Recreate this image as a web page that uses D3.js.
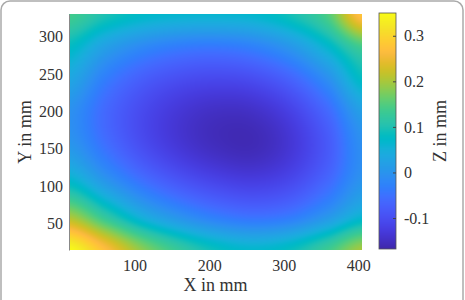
<!DOCTYPE html>
<html><head><meta charset="utf-8">
<script src="https://cdn.jsdelivr.net/npm/d3@7"></script>
<style>html,body{margin:0;padding:0;background:#fff;}svg{display:block;}</style>
</head><body>
<script>
// ---- data ----
const xGrid = [12, 60, 110, 160, 210, 260, 310, 360, 405];        // X in mm
const yGrid = [15, 60, 105, 150, 195, 240, 285, 330];             // Y in mm
const zRows = [                                                    // Z in mm, one row per yGrid value
  [0.35, 0.27, 0.185, 0.125, 0.085, 0.068, 0.085, 0.135, 0.20],
  [0.20, 0.12, 0.045, -0.003, -0.036, -0.051, -0.039, 0.005, 0.06],
  [0.075, 0.01, -0.047, -0.087, -0.112, -0.122, -0.106, -0.06, 0.002],
  [0.01, -0.047, -0.098, -0.132, -0.152, -0.157, -0.134, -0.083, -0.008],
  [-0.005, -0.062, -0.107, -0.136, -0.151, -0.149, -0.122, -0.065, 0.015],
  [0.03, -0.036, -0.08, -0.104, -0.113, -0.106, -0.074, -0.011, 0.075],
  [0.078, 0.02, -0.018, -0.038, -0.043, -0.031, 0.004, 0.066, 0.135],
  [0.14, 0.10, 0.075, 0.065, 0.063, 0.068, 0.095, 0.15, 0.28]
];
const xTicks = [100, 200, 300, 400];
const yTicks = [50, 100, 150, 200, 250, 300];
const zTicks = [-0.1, 0, 0.1, 0.2, 0.3];
const zTickLabels = ["-0.1", "0", "0.1", "0.2", "0.3"];
const xDomain = [12, 405];
const yDomain = [15, 330];
const zDomain = [-0.168, 0.35];
const xLabel = "X in mm", yLabel = "Y in mm", zLabel = "Z in mm";

// parula colormap (64 entries)
const parula = [[0.2422,0.1504,0.6603],[0.2504,0.1650,0.7076],[0.2578,0.1818,0.7511],[0.2647,0.1978,0.7952],[0.2706,0.2147,0.8364],[0.2751,0.2342,0.8710],[0.2783,0.2559,0.8991],[0.2803,0.2782,0.9221],[0.2813,0.3006,0.9414],[0.2810,0.3228,0.9579],[0.2795,0.3447,0.9717],[0.2760,0.3667,0.9829],[0.2699,0.3892,0.9906],[0.2602,0.4123,0.9952],[0.2440,0.4358,0.9988],[0.2206,0.4603,0.9973],[0.1963,0.4847,0.9892],[0.1834,0.5074,0.9798],[0.1786,0.5289,0.9682],[0.1764,0.5499,0.9520],[0.1687,0.5703,0.9359],[0.1540,0.5902,0.9218],[0.1460,0.6091,0.9079],[0.1380,0.6276,0.8973],[0.1248,0.6459,0.8883],[0.1113,0.6635,0.8763],[0.0952,0.6798,0.8598],[0.0689,0.6948,0.8394],[0.0297,0.7082,0.8163],[0.0036,0.7203,0.7917],[0.0067,0.7312,0.7660],[0.0433,0.7411,0.7394],[0.0964,0.7500,0.7120],[0.1408,0.7584,0.6842],[0.1717,0.7670,0.6554],[0.1938,0.7758,0.6251],[0.2161,0.7843,0.5923],[0.2470,0.7918,0.5567],[0.2906,0.7973,0.5188],[0.3406,0.8008,0.4789],[0.3909,0.8029,0.4354],[0.4456,0.8024,0.3909],[0.5044,0.7993,0.3480],[0.5616,0.7942,0.3045],[0.6174,0.7876,0.2612],[0.6720,0.7793,0.2227],[0.7242,0.7698,0.1910],[0.7738,0.7598,0.1646],[0.8203,0.7498,0.1535],[0.8634,0.7406,0.1596],[0.9035,0.7330,0.1774],[0.9393,0.7288,0.2100],[0.9728,0.7298,0.2394],[0.9956,0.7434,0.2371],[0.9970,0.7659,0.2199],[0.9952,0.7893,0.2028],[0.9892,0.8136,0.1885],[0.9786,0.8386,0.1766],[0.9676,0.8639,0.1643],[0.9610,0.8890,0.1537],[0.9597,0.9135,0.1423],[0.9628,0.9373,0.1265],[0.9691,0.9606,0.1064],[0.9769,0.9839,0.0805]];

// ---- layout ----
const W = 465, H = 300;
const P = {left: 69, right: 362, top: 14, bottom: 250};
const CB = {left: 379, right: 396, top: 13, bottom: 249};
const FONT = "'Liberation Serif','Times New Roman',serif";
const TXT = "#333";

const x = d3.scaleLinear().domain(xDomain).range([P.left, P.right]);
const y = d3.scaleLinear().domain(yDomain).range([P.bottom, P.top]);
const cy = d3.scaleLinear().domain(zDomain).range([CB.bottom, CB.top]);
const tScale = d3.scaleLinear().domain(zDomain).range([0, 1]).clamp(true);

function colorRGB(z) {
  const t = tScale(z) * (parula.length - 1);
  const i = Math.min(parula.length - 2, Math.floor(t)), f = t - i;
  const a = parula[i], b = parula[i + 1];
  return [0,1,2].map(k => Math.round(255 * (a[k] + (b[k] - a[k]) * f)));
}
function cr(p0, p1, p2, p3, t) {
  return 0.5 * ((2*p1) + (-p0 + p2)*t + (2*p0 - 5*p1 + 4*p2 - p3)*t*t + (-p0 + 3*p1 - 3*p2 + p3)*t*t*t);
}
function locate(g, v) {
  let i = 0;
  while (i < g.length - 2 && v > g[i + 1]) i++;
  let t = (v - g[i]) / (g[i + 1] - g[i]);
  return [i, Math.max(0, Math.min(1, t))];
}
const cl = (i, n) => Math.max(0, Math.min(n - 1, i));
function zAt(X, Y) {
  const [i, tx] = locate(xGrid, X), [j, ty] = locate(yGrid, Y);
  const nx = xGrid.length, ny = yGrid.length;
  const rows = [-1, 0, 1, 2].map(d => {
    const r = zRows[cl(j + d, ny)];
    return cr(r[cl(i-1,nx)], r[cl(i,nx)], r[cl(i+1,nx)], r[cl(i+2,nx)], tx);
  });
  return cr(rows[0], rows[1], rows[2], rows[3], ty);
}

// render the surface into an image
const pw = P.right - P.left, ph = P.bottom - P.top;
const cv = document.createElement("canvas");
cv.width = pw; cv.height = ph;
const ctx = cv.getContext("2d");
const img = ctx.createImageData(pw, ph);
for (let r = 0; r < ph; r++) {
  const Y = y.invert(P.top + r + 0.5);
  for (let c = 0; c < pw; c++) {
    const X = x.invert(P.left + c + 0.5);
    const [R, G, B] = colorRGB(zAt(X, Y));
    const k = 4 * (r * pw + c);
    img.data[k] = R; img.data[k+1] = G; img.data[k+2] = B; img.data[k+3] = 255;
  }
}
ctx.putImageData(img, 0, 0);

// colorbar image
const cbh = CB.bottom - CB.top;
const cv2 = document.createElement("canvas");
cv2.width = 1; cv2.height = cbh;
const ctx2 = cv2.getContext("2d");
const img2 = ctx2.createImageData(1, cbh);
for (let r = 0; r < cbh; r++) {
  const [R, G, B] = colorRGB(cy.invert(CB.top + r + 0.5));
  img2.data[4*r] = R; img2.data[4*r+1] = G; img2.data[4*r+2] = B; img2.data[4*r+3] = 255;
}
ctx2.putImageData(img2, 0, 0);

const svg = d3.select("body").append("svg").attr("width", W).attr("height", H);
svg.append("rect").attr("width", W).attr("height", H).attr("fill", "#fff");

// outer frame
svg.append("rect").attr("x", 1).attr("y", 1).attr("width", W - 3).attr("height", H + 20)
  .attr("rx", 9).attr("fill", "none").attr("stroke", "#aaa").attr("stroke-width", 1.5);

svg.append("image").attr("x", P.left).attr("y", P.top).attr("width", pw).attr("height", ph)
  .attr("preserveAspectRatio", "none").attr("href", cv.toDataURL());

// axes
const gx = svg.append("g").attr("transform", `translate(0,${P.bottom})`)
  .call(d3.axisBottom(x).tickValues(xTicks).tickSize(0).tickPadding(10));
gx.select(".domain").remove();
const gy = svg.append("g").attr("transform", `translate(${P.left},0)`)
  .call(d3.axisLeft(y).tickValues(yTicks).tickSize(0).tickPadding(6));
gy.select(".domain").attr("stroke", "#888").attr("stroke-width", 1);
[gx, gy].forEach(g => g.selectAll("text").attr("font-family", FONT).attr("font-size", 16).attr("fill", TXT));

// colorbar
svg.append("image").attr("x", CB.left).attr("y", CB.top).attr("width", CB.right - CB.left).attr("height", cbh)
  .attr("preserveAspectRatio", "none").attr("href", cv2.toDataURL());
svg.append("rect").attr("x", CB.left).attr("y", CB.top).attr("width", CB.right - CB.left).attr("height", cbh)
  .attr("fill", "none").attr("stroke", "#555").attr("stroke-width", 0.8);
const gc = svg.append("g").attr("transform", `translate(${CB.right},0)`)
  .call(d3.axisRight(cy).tickValues(zTicks).tickSizeInner(-3).tickSizeOuter(0).tickPadding(8)
    .tickFormat((d, i) => zTickLabels[i]));
gc.select(".domain").remove();
gc.selectAll("line").attr("stroke", "#444");
gc.selectAll("text").attr("font-family", FONT).attr("font-size", 16).attr("fill", TXT);

// titles
svg.append("text").attr("x", (P.left + P.right) / 2).attr("y", 291).attr("text-anchor", "middle")
  .attr("font-family", FONT).attr("font-size", 18).attr("fill", TXT).text(xLabel);
svg.append("text").attr("transform", `translate(31,${(P.top + P.bottom) / 2}) rotate(-90)`)
  .attr("text-anchor", "middle").attr("font-family", FONT).attr("font-size", 18).attr("fill", TXT).text(yLabel);
svg.append("text").attr("transform", `translate(446,${(CB.top + CB.bottom) / 2}) rotate(-90)`)
  .attr("text-anchor", "middle").attr("font-family", FONT).attr("font-size", 18).attr("fill", TXT).text(zLabel);
</script>
</body></html>
